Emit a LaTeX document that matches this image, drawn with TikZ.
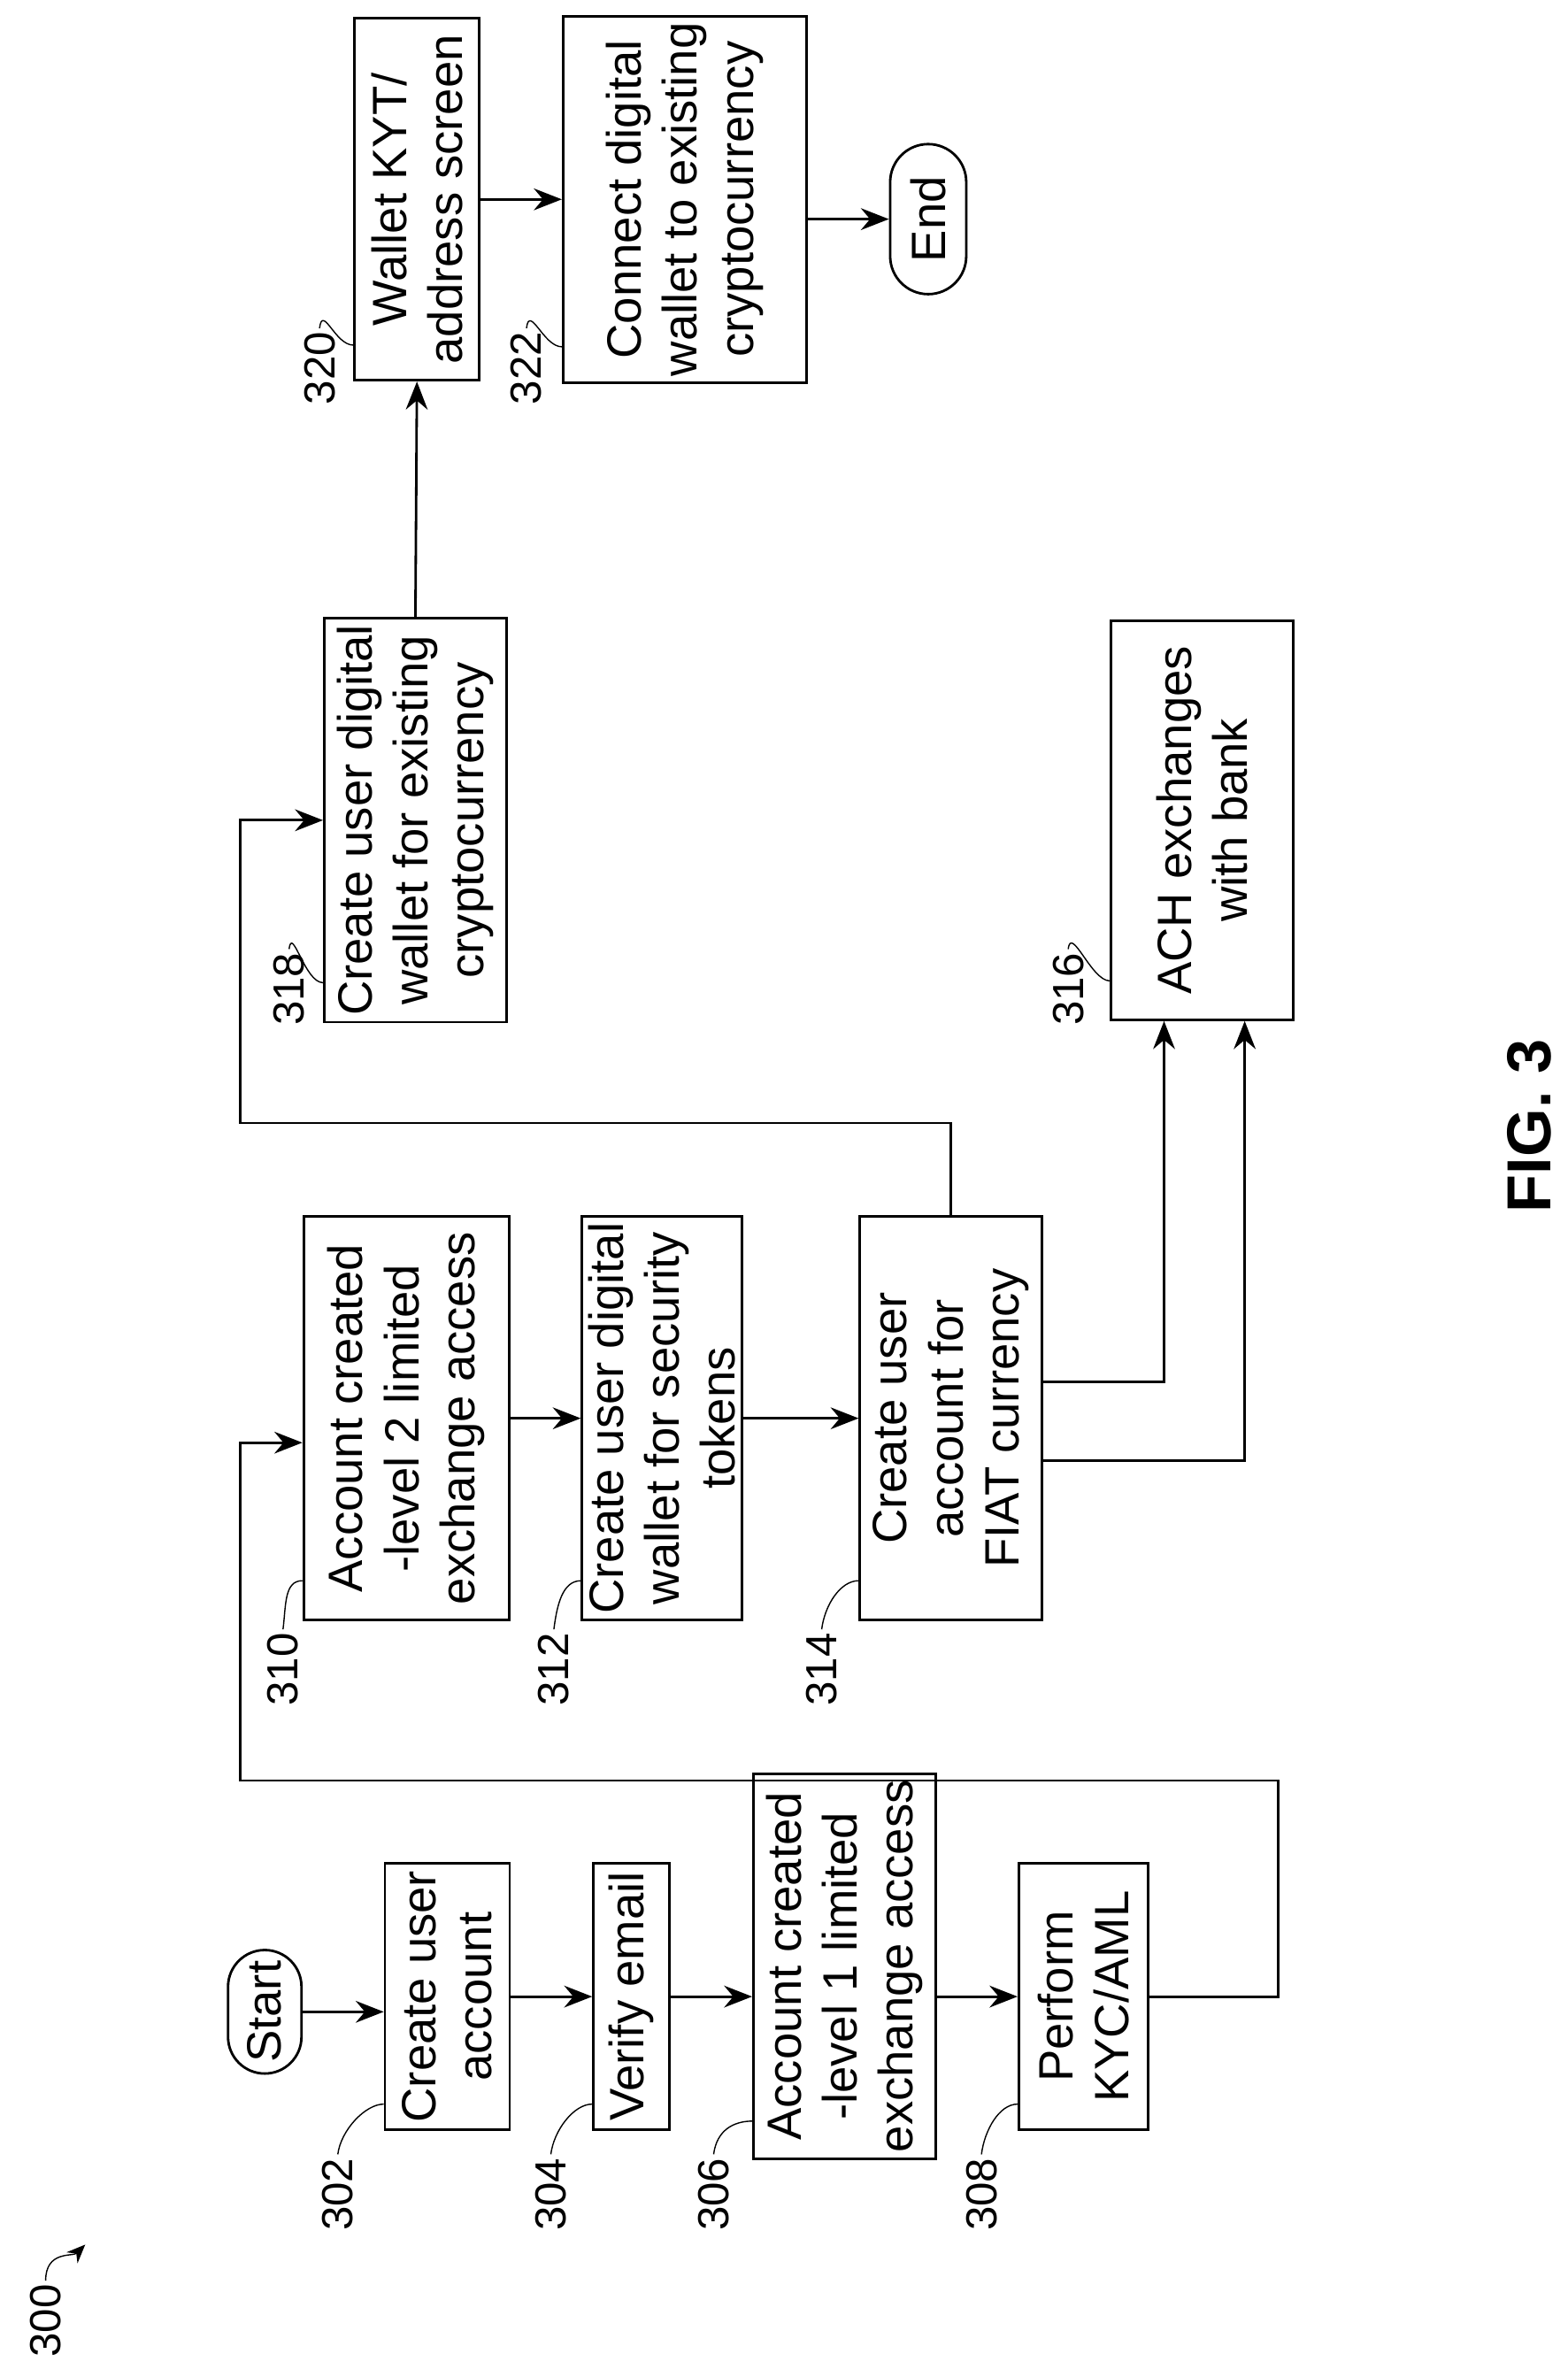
\documentclass[tikz,border=0pt]{standalone}
\usepackage{fontspec}
\setmainfont{Liberation Sans}
\usetikzlibrary{shapes.misc,arrows.meta,calc}

\begin{document}
\begin{tikzpicture}[
    x=0.0172cm, y=-0.0172cm,
    box/.style={draw, thick, rotate=90, align=center, inner sep=2pt, font=\fontsize{15.5}{18}\selectfont},
    term/.style={draw, thick, rounded rectangle, rotate=90, font=\fontsize{15.5}{18}\selectfont},
    num/.style={rotate=90, font=\fontsize{14}{16}\selectfont, inner sep=1pt},
    arrow/.style={-{Stealth[length=9pt,width=7pt]}, thick},
    tick/.style={thin}
]
    \useasboundingbox (0,0) rectangle (1030,1562);

    % first row
    \node[term, minimum width=1.63cm, minimum height=0.83cm] (start) at (174,1322) {Start};
    \node[box, minimum width=3.01cm, minimum height=1.41cm] (s302) at (294,1312) {Create user\\account};
    \node[box, minimum width=3.01cm, minimum height=0.86cm] (s304) at (415,1312) {Verify email};
    \node[box, minimum width=3.70cm, minimum height=2.06cm] (s306) at (555,1292) {Account created\\-level 1 limited\\exchange access};
    \node[box, minimum width=3.01cm, minimum height=1.46cm] (s308) at (712,1312) {Perform\\KYC/AML};

    % second row
    \node[box, minimum width=4.56cm, minimum height=2.32cm] (s310) at (267,932) {Account created\\-level 2 limited\\exchange access};
    \node[box, minimum width=4.56cm, minimum height=1.55cm] (s312) at (435,932) {Create user digital\\wallet for security\\tokens};
    \node[box, minimum width=4.56cm, minimum height=2.06cm] (s314) at (625,932) {Create user\\account for\\FIAT currency};

    % third row
    \node[box, minimum width=4.51cm, minimum height=2.06cm] (s318) at (273,539) {Create user digital\\wallet for existing\\cryptocurrency};
    \node[box, minimum width=4.51cm, minimum height=2.06cm] (s316) at (790,539) {ACH exchanges\\with bank};

    % top row
    \node[box, minimum width=4.09cm, minimum height=1.41cm] (s320) at (274,131) {Wallet KYT/\\address screen};
    \node[box, minimum width=4.09cm, minimum height=2.75cm] (s322) at (450,131) {Connect digital\\wallet to existing\\cryptocurrency};
    \node[term, minimum width=1.93cm, minimum height=0.86cm] (end) at (610,144) {End};

    % reference numerals
    \foreach \n/\x/\y in {302/222/1442, 304/362/1442, 306/469/1442, 308/645/1442,
                          310/186/1097, 312/364/1097, 314/540/1097,
                          318/190/650, 316/702/650, 320/210/242, 322/346/242} {
        \node[num] (l\n) at (\x,\y) {\n};
        \draw[tick] (l\n.east) .. controls +(2,-16) and +(-12,0) .. ($(s\n.north west)!0.1!(s\n.north east)$);
    }

    % connectors
    \draw[arrow] (start.south) -- (s302.north |- start.south);
    \draw[arrow] (s302) -- (s304);
    \draw[arrow] (s304) -- (s306.north |- s304.south);
    \draw[arrow] (s306.south |- s304.south) -- (s308);
    \draw[arrow] (s308.south) -| (840,1170) -| (158,948) -- ($(s310.north)+(0,16)$);
    \draw[arrow] (s310) -- (s312);
    \draw[arrow] (s312) -- (s314);
    \draw[arrow] ($(s314.south)+(0,-24)$) -| ($(s316.west)+(-25,0)$);
    \draw[arrow] ($(s314.south)+(0,28)$) -| ($(s316.west)+(28,0)$);
    \draw[arrow] (s314.east) |- (158,738) |- (s318.north);
    \draw[arrow] (s318.east) -- (s320.west);
    \draw[arrow] (s320) -- (s322);
    \draw[arrow] (s322.south |- end.north) -- (end.north);

    % figure labels
    \node[num] (l300) at (30,1525) {300};
    \draw[-{Stealth[length=6pt,width=5pt]}, thin] (l300.east) .. controls +(0,-20) and +(-8,8) .. (56,1475);
    \node[rotate=90, font=\bfseries\fontsize{20}{24}\selectfont] (fig) at (1005,740) {FIG. 3};
\end{tikzpicture}
\end{document}
